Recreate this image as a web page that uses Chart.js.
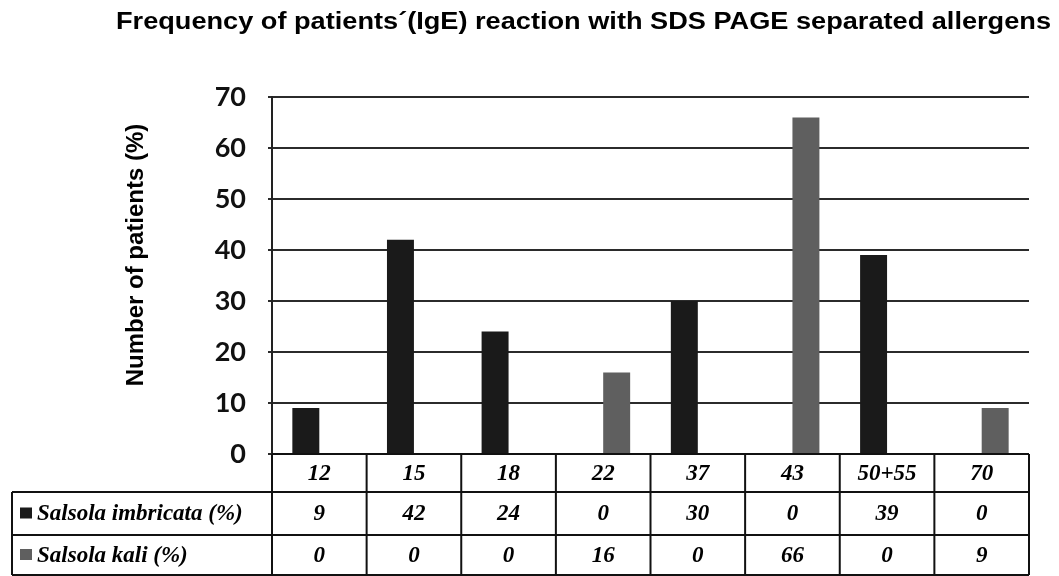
<!DOCTYPE html>
<html>
<head>
<meta charset="utf-8">
<script src="https://cdn.jsdelivr.net/npm/chart.js@4.4.1/dist/chart.umd.min.js"></script>
<style>
  html, body { margin: 0; padding: 0; background: #fff; }
  #wrap { width: 1059px; height: 576px; }
</style>
</head>
<body>
<div id="wrap"><canvas id="chart" width="1059" height="576"></canvas></div>
<script>
// data
const categories = ['12', '15', '18', '22', '37', '43', '50+55', '70'];
const imbricata = [9, 42, 24, 0, 30, 0, 39, 0];
const kali = [0, 0, 0, 16, 0, 66, 0, 9];
const seriesNames = ['Salsola imbricata (%)', 'Salsola kali (%)'];
const seriesColors = ['#1a1a1a', '#5f5f5f'];
const yMax = 70;
const yStep = 10;

const chartTitle = 'Frequency of patients\u00B4(IgE) reaction with SDS PAGE separated allergens';
const yTitle = 'Number of patients (%)';
const tableFont = 'italic bold 23px "Liberation Serif"';

// title and rotated axis title, fitted to where they sit in the figure
const titlePlugin = {
    id: 'titles',
    afterDraw(chart) {
        const ctx = chart.ctx;
        ctx.save();
        ctx.font = 'bold 23px "Liberation Sans"';
        ctx.fillStyle = '#000';
        ctx.textBaseline = 'alphabetic';
        const w = ctx.measureText(chartTitle).width;
        ctx.translate(116, 29);
        ctx.scale(935 / w, 1);
        ctx.fillText(chartTitle, 0, 0);
        ctx.restore();

        ctx.save();
        ctx.font = 'bold 24px "Liberation Sans"';
        ctx.fillStyle = '#000';
        ctx.textAlign = 'center';
        ctx.textBaseline = 'middle';
        ctx.translate(136, 255);
        ctx.rotate(-Math.PI / 2);
        ctx.fillText(yTitle, 0, 0);
        ctx.restore();
    }
};

// data table under the plot, lined up with the category scale
const tablePlugin = {
    id: 'dataTable',
    afterDraw(chart) {
        const ctx = chart.ctx;
        const area = chart.chartArea;
        const xs = chart.scales.x;
        const colW = (area.right - area.left) / categories.length;
        const rowY = [area.bottom, 492, 535, 575];
        const legendLeft = 12;

        ctx.save();
        ctx.strokeStyle = '#111';
        ctx.lineWidth = 2;
        ctx.beginPath();
        ctx.moveTo(area.left, rowY[0]); ctx.lineTo(area.right, rowY[0]);
        for (let r = 1; r < rowY.length; r++) {
            ctx.moveTo(legendLeft, rowY[r]); ctx.lineTo(area.right, rowY[r]);
        }
        for (let i = 0; i <= categories.length; i++) {
            const x = area.left + i * colW;
            ctx.moveTo(x, rowY[0]); ctx.lineTo(x, rowY[3]);
        }
        ctx.moveTo(legendLeft, rowY[1]); ctx.lineTo(legendLeft, rowY[3]);
        ctx.stroke();

        ctx.font = tableFont;
        ctx.fillStyle = '#000';
        ctx.textBaseline = 'middle';
        ctx.textAlign = 'center';
        const rows = [categories, imbricata, kali];
        rows.forEach((vals, r) => {
            const cy = (rowY[r] + rowY[r + 1]) / 2 + 1;
            vals.forEach((v, i) => {
                ctx.fillText(String(v), xs.getPixelForValue(i), cy);
            });
        });

        // legend keys in the first column
        ctx.textAlign = 'left';
        seriesNames.forEach((name, k) => {
            const cy = (rowY[k + 1] + rowY[k + 2]) / 2;
            ctx.fillStyle = seriesColors[k];
            ctx.fillRect(20, cy - 6, 12, 11);
            ctx.fillStyle = '#000';
            ctx.fillText(name, 37, cy + 1);
        });
        ctx.restore();
    }
};

new Chart(document.getElementById('chart'), {
    type: 'bar',
    data: {
        labels: categories,
        datasets: [
            { label: seriesNames[0], data: imbricata, backgroundColor: seriesColors[0] },
            { label: seriesNames[1], data: kali, backgroundColor: seriesColors[1] }
        ]
    },
    options: {
        responsive: false,
        animation: false,
        layout: { padding: { top: 97, right: 30, bottom: 122, left: 0 } },
        datasets: { bar: { categoryPercentage: 0.57, barPercentage: 1.0, borderWidth: 0 } },
        plugins: {
            legend: { display: false },
            title: { display: false },
            tooltip: { enabled: false }
        },
        scales: {
            x: { display: false },
            y: {
                min: 0,
                max: yMax,
                afterFit: (scale) => { scale.width = 272; },
                ticks: {
                    stepSize: yStep,
                    padding: 22,
                    color: '#111',
                    font: { family: 'Lato', weight: 'bold', size: 27 }
                },
                grid: { color: '#2b2b2b', lineWidth: 2, tickLength: 4, drawTicks: true },
                border: { display: true, color: '#222', width: 2 }
            }
        }
    },
    plugins: [titlePlugin, tablePlugin]
});
</script>
</body>
</html>
